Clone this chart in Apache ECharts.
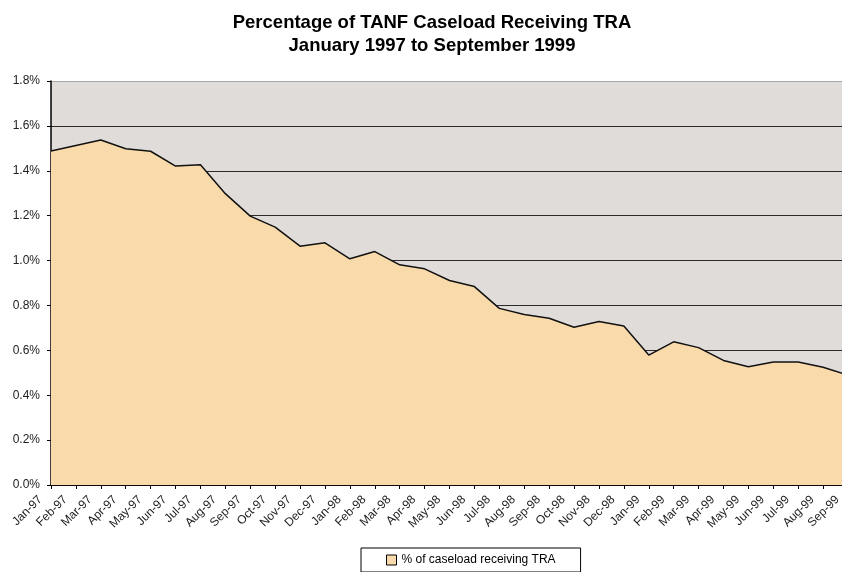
<!DOCTYPE html>
<html>
<head>
<meta charset="utf-8">
<script src="https://cdn.jsdelivr.net/npm/echarts@6/dist/echarts.min.js"></script>
<style>
html,body{margin:0;padding:0;background:#fff;}
#chart{width:842px;height:572px;}
</style>
</head>
<body>
<div id="chart"></div>
<script>
var categories = ['Jan-97','Feb-97','Mar-97','Apr-97','May-97','Jun-97','Jul-97','Aug-97','Sep-97','Oct-97','Nov-97','Dec-97',
  'Jan-98','Feb-98','Mar-98','Apr-98','May-98','Jun-98','Jul-98','Aug-98','Sep-98','Oct-98','Nov-98','Dec-98',
  'Jan-99','Feb-99','Mar-99','Apr-99','May-99','Jun-99','Jul-99','Aug-99','Sep-99'];
var pctReceivingTRA = [1.488,1.513,1.537,1.498,1.487,1.421,1.427,1.298,1.198,1.149,1.064,1.079,
  1.008,1.040,0.981,0.963,0.911,0.884,0.787,0.760,0.743,0.703,0.728,0.708,
  0.579,0.638,0.612,0.555,0.527,0.548,0.548,0.525,0.489];
var seriesName = '% of caseload receiving TRA';
var titleLines = ['Percentage of TANF Caseload Receiving TRA', 'January 1997 to September 1999'];
var yMin = 0, yMax = 1.8, yStep = 0.2;

var chart = echarts.init(document.getElementById('chart'), null, {renderer: 'canvas'});
var gridColors = ['#2a2a2a','#2a2a2a','#2a2a2a','#2a2a2a','#2a2a2a','#2a2a2a','#2a2a2a','#2a2a2a','#2a2a2a','#a8a8a8'];
chart.setOption({
  animation: false,
  backgroundColor: '#ffffff',
  title: {
    text: titleLines.join('\n'),
    left: 427, top: 6, textAlign: 'center',
    textStyle: {fontFamily: 'Liberation Sans, Arial, sans-serif', fontWeight: 'bold', fontSize: 18.5, lineHeight: 23, color: '#000'}
  },
  legend: {
    data: [seriesName],
    left: 361, top: 548,
    padding: [6, 25, 6, 25],
    borderColor: '#000', borderWidth: 1,
    icon: 'rect', itemWidth: 10, itemHeight: 10,
    itemStyle: {borderColor: '#000', borderWidth: 1},
    textStyle: {fontFamily: 'Liberation Sans, Arial, sans-serif', fontSize: 12, color: '#000'}
  },
  grid: {
    left: 51, top: 81, width: 797, height: 404,
    outerBoundsMode: 'none', containLabel: false,
    show: true, backgroundColor: '#e0dcda', borderWidth: 0
  },
  xAxis: {
    type: 'category', data: categories, boundaryGap: false,
    axisLine: {lineStyle: {color: '#000', width: 1.5}},
    axisTick: {show: true, interval: 0, length: 4, lineStyle: {color: '#000'}},
    axisLabel: {interval: 0, rotate: 45, margin: 2, padding: [0, 15, 0, 0], fontSize: 12, color: '#222', fontFamily: 'Liberation Sans, Arial, sans-serif'},
    splitLine: {show: false}
  },
  yAxis: {
    type: 'value', min: yMin, max: yMax, interval: yStep,
    axisLine: {show: true, lineStyle: {color: '#000', width: 1.5}},
    axisTick: {show: true, length: 4, lineStyle: {color: '#000'}},
    axisLabel: {margin: 11, fontSize: 12, color: '#222', fontFamily: 'Liberation Sans, Arial, sans-serif',
      formatter: function (v) { return v.toFixed(1) + '%'; }},
    splitLine: {show: true, lineStyle: {color: gridColors, width: 1.2}}
  },
  series: [{
    name: seriesName, type: 'line', data: pctReceivingTRA,
    symbol: 'none', color: '#f9dbab',
    lineStyle: {color: '#111', width: 1.5},
    areaStyle: {color: '#f9dbab', opacity: 1}
  }]
});
</script>
</body>
</html>
